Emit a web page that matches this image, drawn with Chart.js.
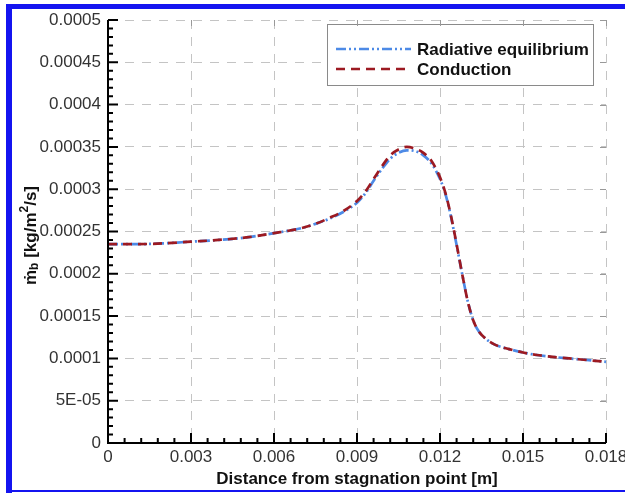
<!DOCTYPE html>
<html>
<head>
<meta charset="utf-8">
<script src="https://cdn.jsdelivr.net/npm/chart.js"></script>
<style>
  html,body{margin:0;padding:0;background:#fff;}
  canvas{display:block;}
</style>
</head>
<body>
<canvas id="c" width="625" height="493"></canvas>
<script>
// distance from stagnation point [m]
const xs = [0, 0.001, 0.002, 0.003, 0.004, 0.005, 0.006, 0.007, 0.0075, 0.008, 0.0085, 0.009, 0.0093, 0.0096, 0.0099,
  0.0102, 0.0105, 0.0108, 0.0111, 0.0114, 0.0117, 0.012, 0.0122, 0.0124, 0.0126, 0.0128, 0.013, 0.0132, 0.0134,
  0.0137, 0.014, 0.0145, 0.015, 0.0155, 0.016, 0.017, 0.018];
// mdot_b [kg/m2/s]
const radiative = [0.000235, 0.000235, 0.000236, 0.000238, 0.00024, 0.000243, 0.000248, 0.000254, 0.000259, 0.000265, 0.000273, 0.000284, 0.000295, 0.00031, 0.000324,
  0.000336, 0.000343, 0.000346, 0.000345, 0.00034, 0.00033, 0.000312, 0.000294, 0.000267, 0.000234, 0.0002, 0.000168, 0.000145, 0.000132,
  0.000122, 0.000116, 0.000111, 0.000107, 0.000104, 0.000102, 0.000099, 0.000096];
const conduction = [0.000235, 0.000235, 0.000236, 0.000238, 0.00024, 0.000243, 0.000248, 0.000254, 0.000259, 0.000266, 0.000274, 0.000286, 0.000297, 0.000312, 0.000327,
  0.00034, 0.000347, 0.00035, 0.000348, 0.000343, 0.000333, 0.000314, 0.000295, 0.000268, 0.000235, 0.0002, 0.000168, 0.000145, 0.000132,
  0.000122, 0.000116, 0.000111, 0.000107, 0.000104, 0.000102, 0.000099, 0.000096];

const xTicks = [0, 0.003, 0.006, 0.009, 0.012, 0.015, 0.018];
const xTickLabels = ['0', '0.003', '0.006', '0.009', '0.012', '0.015', '0.018'];
const yTicks = [0, 0.00005, 0.0001, 0.00015, 0.0002, 0.00025, 0.0003, 0.00035, 0.0004, 0.00045, 0.0005];
const yTickLabels = ['0', '5E-05', '0.0001', '0.00015', '0.0002', '0.00025', '0.0003', '0.00035', '0.0004', '0.00045', '0.0005'];

const FONT = '"Liberation Sans", Arial, "DejaVu Sans", sans-serif';

function pts(ys){ return xs.map((x,i)=>({x:x, y:ys[i]})); }

// page frame, inward ticks, legend, y title
const decor = {
  id: 'decor',
  beforeDraw(chart){
    const ctx = chart.ctx;
    ctx.save();
    ctx.fillStyle = '#fff';
    ctx.fillRect(0,0,chart.width,chart.height);
    ctx.fillStyle = '#1414f0';
    ctx.fillRect(6,4,619,5);
    ctx.fillRect(6,4,6,489);
    ctx.fillRect(6,490,619,2);
    ctx.restore();
  },
  afterDatasetsDraw(chart){
    const ctx = chart.ctx, a = chart.chartArea;
    const xs_ = chart.scales.x, ys_ = chart.scales.y;
    ctx.save();

    // legend box
    ctx.fillStyle = '#fff';
    ctx.fillRect(327, 24, 266, 61);
    ctx.strokeStyle = '#8a8a8a'; ctx.lineWidth = 1;
    ctx.strokeRect(327.5, 24.5, 266, 61);
    const legendOrder = [1, 0];
    legendOrder.forEach((di, row)=>{
      const ds = chart.data.datasets[di];
      const y = 49 + row*20;
      ctx.strokeStyle = ds.borderColor; ctx.lineWidth = ds.borderWidth;
      ctx.setLineDash(ds.borderDash);
      ctx.beginPath(); ctx.moveTo(336, y); ctx.lineTo(411, y); ctx.stroke();
      ctx.setLineDash([]);
      ctx.fillStyle = '#111';
      ctx.font = 'bold 17px ' + FONT;
      ctx.textBaseline = 'middle'; ctx.textAlign = 'left';
      ctx.fillText(ds.label, 417, y + 1);
    });

    // top / right small ticks
    ctx.strokeStyle = '#999'; ctx.lineWidth = 1;
    ctx.beginPath();
    xTicks.forEach(v=>{ const px = Math.round(xs_.getPixelForValue(v)) + 0.5; ctx.moveTo(px, a.top); ctx.lineTo(px, a.top + 6); });
    yTicks.forEach(v=>{ const py = Math.round(ys_.getPixelForValue(v)) + 0.5; ctx.moveTo(a.right, py); ctx.lineTo(a.right - 6, py); });
    ctx.stroke();

    // axes and inward ticks
    ctx.strokeStyle = '#000'; ctx.lineWidth = 2;
    ctx.beginPath();
    ctx.moveTo(a.left, a.top); ctx.lineTo(a.left, a.bottom); ctx.lineTo(a.right, a.bottom);
    for(let v = 0; v <= 0.018 + 1e-9; v += 0.0006){
      const px = xs_.getPixelForValue(v);
      const major = Math.abs(v/0.003 - Math.round(v/0.003)) < 1e-6;
      ctx.moveTo(px, a.bottom); ctx.lineTo(px, a.bottom - (major ? 10 : 5));
    }
    for(let v = 0; v <= 0.0005 + 1e-12; v += 0.00001){
      const py = ys_.getPixelForValue(v);
      const major = Math.abs(v/0.00005 - Math.round(v/0.00005)) < 1e-6;
      ctx.moveTo(a.left, py); ctx.lineTo(a.left + (major ? 10 : 5), py);
    }
    ctx.stroke();

    // y axis title: m-dot sub b [kg/m^2/s]
    const parts = [
      {t:'\u1E41', s:17, dy:0}, {t:'b', s:12, dy:4}, {t:' [kg/m', s:17, dy:0},
      {t:'2', s:12, dy:-6}, {t:'/s]', s:17, dy:0}
    ];
    ctx.translate(31, (a.top + a.bottom)/2 + 4);
    ctx.rotate(-Math.PI/2);
    ctx.fillStyle = '#111'; ctx.textBaseline = 'middle'; ctx.textAlign = 'left';
    let total = 0;
    parts.forEach(p=>{ ctx.font = 'bold ' + p.s + 'px ' + FONT; p.w = ctx.measureText(p.t).width; total += p.w; });
    let cx = -total/2;
    parts.forEach(p=>{ ctx.font = 'bold ' + p.s + 'px ' + FONT; ctx.fillText(p.t, cx, p.dy); cx += p.w; });
    ctx.restore();
  }
};

new Chart(document.getElementById('c'), {
  type: 'line',
  data: {
    datasets: [
      { label: 'Conduction', data: pts(conduction), borderColor: '#9c1a22', borderWidth: 2.7,
        borderDash: [9, 6], pointRadius: 0, cubicInterpolationMode: 'monotone', fill: false },
      { label: 'Radiative equilibrium', data: pts(radiative), borderColor: '#4d8ae6', borderWidth: 2.7,
        borderDash: [10, 3, 2, 3, 2, 3], pointRadius: 0, cubicInterpolationMode: 'monotone', fill: false }
    ]
  },
  options: {
    responsive: false,
    animation: false,
    layout: { padding: { left: 0, right: 19, top: 20, bottom: 0 } },
    plugins: { legend: { display: false }, tooltip: { enabled: false } },
    scales: {
      x: {
        type: 'linear', min: 0, max: 0.018,
        afterBuildTicks: s => { s.ticks = xTicks.map(v=>({value:v})); },
        afterFit: s => { s.height = 50; s.paddingLeft = 0; s.paddingRight = 0; },
        ticks: { autoSkip: false, maxRotation: 0, padding: 4, color: '#333',
          font: { family: FONT, size: 17 }, callback: (v, i) => xTickLabels[i] },
        grid: { color: '#c4c4c4', lineWidth: 1, drawTicks: false },
        border: { display: false, dash: [9, 8] },
        title: { display: true, text: 'Distance from stagnation point [m]', color: '#111',
          font: { family: FONT, size: 17, weight: 'bold' }, padding: { top: 0, bottom: 3 } }
      },
      y: {
        type: 'linear', min: 0, max: 0.0005,
        afterBuildTicks: s => { s.ticks = yTicks.map(v=>({value:v})); },
        afterFit: s => { s.width = 108; s.paddingTop = 0; s.paddingBottom = 0; },
        ticks: { autoSkip: false, padding: 7, color: '#333',
          font: { family: FONT, size: 17 }, callback: (v, i) => yTickLabels[i] },
        grid: { color: '#c4c4c4', lineWidth: 1, drawTicks: false },
        border: { display: false, dash: [9, 8] }
      }
    }
  },
  plugins: [decor]
});
</script>
</body>
</html>
